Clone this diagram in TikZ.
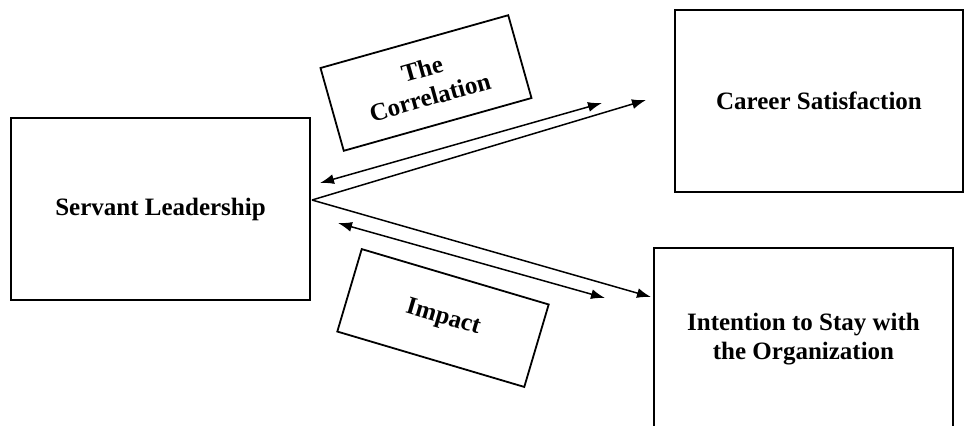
\documentclass[tikz,border=0pt]{standalone}
\usepackage{fontspec}
\setmainfont{Liberation Serif}
\usetikzlibrary{arrows.meta}
\begin{document}
\begin{tikzpicture}[x=0.5pt,y=-0.5pt,
    box/.style={draw, line width=1pt, minimum width=149.5pt, minimum height=91pt,
      inner sep=0pt, align=center, font=\fontsize{12.5}{14.5}\selectfont\bfseries},
    tag/.style={draw, line width=0.9pt, minimum width=97.5pt, minimum height=43pt,
      inner sep=0pt, align=center, font=\fontsize{12.5}{14.5}\selectfont\bfseries},
    link/.style={line width=0.75pt, -{Latex[length=7pt,width=5pt]}},
    both/.style={line width=0.75pt, {Latex[length=7pt,width=5pt]}-{Latex[length=7pt,width=5pt]}}]
  \useasboundingbox (0,0) rectangle (964,425);
  \node[box] (sl) at (160.5,209) {Servant Leadership};
  \node[box, minimum width=144pt] (cs) at (819,101) {Career Satisfaction};
  \node[box] (it) at (803.5,339) {Intention to Stay with\\the Organization};
  \node[tag, rotate=15.7] (cor) at (426,83) {The\\Correlation};
  \node[tag, rotate=-16.5] (imp) at (443,318) {Impact};
  \coordinate (slout) at (312,200);
  \coordinate (csin) at (646,100);
  \coordinate (itin) at (651,297);
  \coordinate (cora) at (320,183);
  \coordinate (corb) at (602,103);
  \coordinate (impa) at (338,223);
  \coordinate (impb) at (605,298);
  \draw[link] (slout) -- (csin);
  \draw[link] (slout) -- (itin);
  \draw[both] (cora) -- (corb);
  \draw[both] (impa) -- (impb);
\end{tikzpicture}
\end{document}
